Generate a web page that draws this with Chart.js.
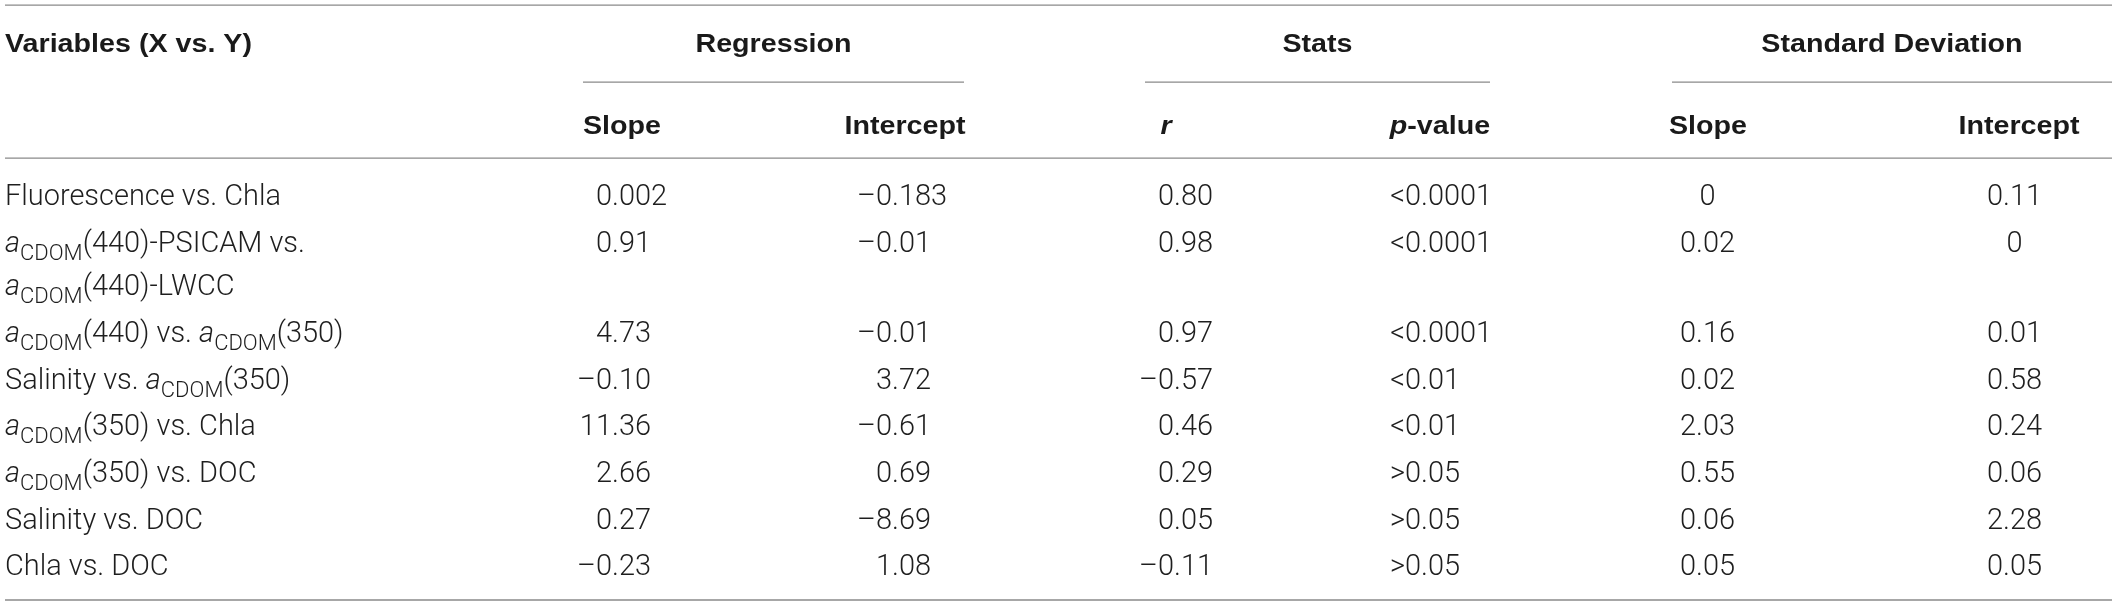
<!DOCTYPE html>
<html>
<head>
<meta charset="utf-8">
<script src="https://cdn.jsdelivr.net/npm/chart.js@4.4.1/dist/chart.umd.min.js"></script>
<style>
  html, body { margin: 0; padding: 0; background: #ffffff; }
  #wrap { width: 2118px; height: 606px; position: relative; }
</style>
</head>
<body>
<div id="wrap"><canvas id="c"></canvas></div>
<script>
// ---------------- DATA ----------------
// markup: _x_ = italic, ~x~ = subscript, \n = line break inside a cell
const firstHeader = 'Variables (X vs. Y)';
const groupHeaders = ['Regression', 'Stats', 'Standard Deviation'];
const columnHeaders = ['Slope', 'Intercept', '_r_', '_p_-value', 'Slope', 'Intercept'];
const variables = [
  'Fluorescence vs. Chla',
  '_a_~CDOM~(440)-PSICAM vs.\n_a_~CDOM~(440)-LWCC',
  '_a_~CDOM~(440) vs. _a_~CDOM~(350)',
  'Salinity vs. _a_~CDOM~(350)',
  '_a_~CDOM~(350) vs. Chla',
  '_a_~CDOM~(350) vs. DOC',
  'Salinity vs. DOC',
  'Chla vs. DOC'
];
const regressionSlope     = [0.002, 0.91, 4.73, -0.10, 11.36, 2.66, 0.27, -0.23];
const regressionIntercept = [-0.183, -0.01, -0.01, 3.72, -0.61, 0.69, -8.69, 1.08];
const statsR              = [0.80, 0.98, 0.97, -0.57, 0.46, 0.29, 0.05, -0.11];
const statsP              = ['<0.0001', '<0.0001', '<0.0001', '<0.01', '<0.01', '>0.05', '>0.05', '>0.05'];
const sdSlope             = [0, 0.02, 0.16, 0.02, 2.03, 0.55, 0.06, 0.05];
const sdIntercept         = [0.11, 0, 0.01, 0.58, 0.24, 0.06, 2.28, 0.05];

// ---------------- LAYOUT / STYLE ----------------
const LAYOUT = {
  yMin: -4.179, yMax: 8.809,      // table "line units" shown on the y scale
  wrapPitch: 0.93,                // pitch of a wrapped line inside one row
  varX: 5,
  anchors: [651, 931, 1213, 1460, 1735, 2042],       // right edge of a 2-decimal number
  headCenters: [622, 905, 1166, 1440, 1708, 2019],
  groupSpans: [[583, 964], [1145, 1490], [1672, 2112]],
  ruleSpan: [5, 2112],
  yTopRule: -4.07, yGroupText: -3.25, yGroupRule: -2.42, ySubText: -1.5, yHeadRule: -0.79,
  bottomRuleGap: 0.75
};
const RULE = { color: '#8a8a8a', width: 1.3 };
const BODY = { family: 'Roboto, "Liberation Sans", sans-serif', weight: 300, size: 29, color: '#1e1e1e',
               subScale: 0.76, subShift: 0.28, fitText: 'Fluorescence vs. Chla', fitWidth: 276, sx: 1 };
const HEAD = { family: '"Liberation Sans", Arial, sans-serif', weight: 700, size: 25, color: '#1a1a1a',
               subScale: 0.74, subShift: 0.28, fitText: 'Variables (X vs. Y)', fitWidth: 247, sx: 1 };

// ---------------- HELPERS ----------------
function parseRich(str) {
  const segs = []; let cur = ''; let italic = false, sub = false;
  for (const ch of str) {
    if (ch === '_' || ch === '~') {
      if (cur) segs.push({ t: cur, italic, sub });
      cur = '';
      if (ch === '_') italic = !italic; else sub = !sub;
    } else cur += ch;
  }
  if (cur) segs.push({ t: cur, italic, sub });
  return segs;
}
function fontFor(seg, st) {
  const size = seg.sub ? st.size * st.subScale : st.size;
  return (seg.italic ? 'italic ' : '') + st.weight + ' ' + size + 'px ' + st.family;
}
function richWidth(ctx, segs, st) {
  let w = 0;
  for (const s of segs) { ctx.font = fontFor(s, st); w += ctx.measureText(s.t).width; }
  return w * st.sx;
}
function drawRich(ctx, segs, x, yCenter, align, st) {
  const w = richWidth(ctx, segs, st);
  let cx = align === 'left' ? x : (align === 'right' ? x - w : x - w / 2);
  const base = yCenter + st.size * 0.355;
  ctx.save();
  ctx.fillStyle = st.color; ctx.textAlign = 'left'; ctx.textBaseline = 'alphabetic';
  for (const s of segs) {
    ctx.font = fontFor(s, st);
    const mw = ctx.measureText(s.t).width;
    ctx.save();
    ctx.translate(cx, base + (s.sub ? st.size * st.subShift : 0));
    ctx.scale(st.sx, 1);
    ctx.fillText(s.t, 0, 0);
    ctx.restore();
    cx += mw * st.sx;
  }
  ctx.restore();
}
function decimalsOf(v) {
  let d = 2;
  while (d < 6 && Math.abs(Math.round(v * Math.pow(10, d)) / Math.pow(10, d) - v) > 1e-9) d++;
  return d;
}
function fmt(v) {
  if (typeof v === 'string') return v;
  if (v === 0) return '0';
  return (v < 0 ? '\u2013' : '') + Math.abs(v).toFixed(decimalsOf(v));
}
function drawNumber(ctx, s, anchorX, yCenter, st) {
  const segs = [{ t: s, italic: false, sub: false }];
  const dot = s.indexOf('.');
  if (dot < 0) {
    const ref = richWidth(ctx, [{ t: '0.00' }], st);
    drawRich(ctx, segs, anchorX - ref / 2, yCenter, 'center', st);
    return;
  }
  const extra = s.length - dot - 1 - 2;
  const dw = richWidth(ctx, [{ t: '0' }], st);
  drawRich(ctx, segs, anchorX + extra * dw, yCenter, 'right', st);
}

// row positions (y value in line units) derived from the number of lines in each label
const rowPos = [];
(function () {
  let y = 0;
  for (const v of variables) {
    rowPos.push(y);
    const lines = v.split('\n').length;
    y += 1 + (lines - 1) * LAYOUT.wrapPitch;
  }
})();
const lastLine = rowPos[rowPos.length - 1] + (variables[variables.length - 1].split('\n').length - 1) * LAYOUT.wrapPitch;

// ---------------- DATASETS ----------------
const numericColumns = [regressionSlope, regressionIntercept, statsR, statsP, sdSlope, sdIntercept];
const datasets = [];

function ruleDataset(x0, x1, y) {
  return { type: 'line', data: [{ x: x0, y: y }, { x: x1, y: y }], borderColor: RULE.color,
           borderWidth: RULE.width, pointRadius: 0, fill: false, clip: false, tension: 0 };
}
datasets.push(ruleDataset(LAYOUT.ruleSpan[0], LAYOUT.ruleSpan[1], LAYOUT.yTopRule));
datasets.push(ruleDataset(LAYOUT.ruleSpan[0], LAYOUT.ruleSpan[1], LAYOUT.yHeadRule));
datasets.push(ruleDataset(LAYOUT.ruleSpan[0], LAYOUT.ruleSpan[1], lastLine + LAYOUT.bottomRuleGap));
LAYOUT.groupSpans.forEach(sp => datasets.push(ruleDataset(sp[0], sp[1], LAYOUT.yGroupRule)));

// text "cells" as invisible points placed by the scales
datasets.push({ type: 'scatter', kind: 'var', texts: variables,
  data: variables.map((v, i) => ({ x: LAYOUT.varX, y: rowPos[i] })), pointRadius: 0, clip: false });
numericColumns.forEach((col, c) => {
  datasets.push({ type: 'scatter', kind: 'num', texts: col.map(fmt),
    data: col.map((v, i) => ({ x: LAYOUT.anchors[c], y: rowPos[i] })), pointRadius: 0, clip: false });
});
datasets.push({ type: 'scatter', kind: 'head', align: 'center', texts: columnHeaders,
  data: columnHeaders.map((h, c) => ({ x: LAYOUT.headCenters[c], y: LAYOUT.ySubText })), pointRadius: 0, clip: false });
datasets.push({ type: 'scatter', kind: 'head', align: 'center', texts: groupHeaders,
  data: groupHeaders.map((h, g) => ({ x: (LAYOUT.groupSpans[g][0] + LAYOUT.groupSpans[g][1]) / 2, y: LAYOUT.yGroupText })),
  pointRadius: 0, clip: false });
datasets.push({ type: 'scatter', kind: 'head', align: 'left', texts: [firstHeader],
  data: [{ x: LAYOUT.varX, y: LAYOUT.yGroupText }], pointRadius: 0, clip: false });

// ---------------- PLUGIN: draw the cell texts ----------------
const tableText = {
  id: 'tableText',
  afterDatasetsDraw(chart) {
    const ctx = chart.ctx;
    const ys = chart.scales.y;
    // calibrate horizontal stretch so text widths match the reference
    [BODY, HEAD].forEach(st => {
      st.sx = 1;
      const w = richWidth(ctx, parseRich(st.fitText), st);
      st.sx = st.fitWidth / w;
    });
    chart.data.datasets.forEach((ds, di) => {
      if (!ds.texts) return;
      const meta = chart.getDatasetMeta(di);
      meta.data.forEach((el, i) => {
        const txt = ds.texts[i];
        if (ds.kind === 'num') {
          drawNumber(ctx, txt, el.x, el.y, BODY);
        } else if (ds.kind === 'var') {
          const lines = txt.split('\n');
          lines.forEach((ln, k) => {
            const yPix = ys.getPixelForValue(rowPos[i] + k * LAYOUT.wrapPitch);
            drawRich(ctx, parseRich(ln), el.x, yPix, 'left', BODY);
          });
        } else {
          drawRich(ctx, parseRich(txt), el.x, el.y, ds.align, HEAD);
        }
      });
    });
  }
};

new Chart(document.getElementById('c'), {
  type: 'scatter',
  data: { datasets },
  options: {
    responsive: true, maintainAspectRatio: false, animation: false, events: [],
    layout: { padding: 0 },
    plugins: { legend: { display: false }, tooltip: { enabled: false } },
    scales: {
      x: { type: 'linear', min: 0, max: 2118, display: false },
      y: { type: 'linear', min: LAYOUT.yMin, max: LAYOUT.yMax, reverse: true, display: false }
    }
  },
  plugins: [tableText]
});
</script>
</body>
</html>
